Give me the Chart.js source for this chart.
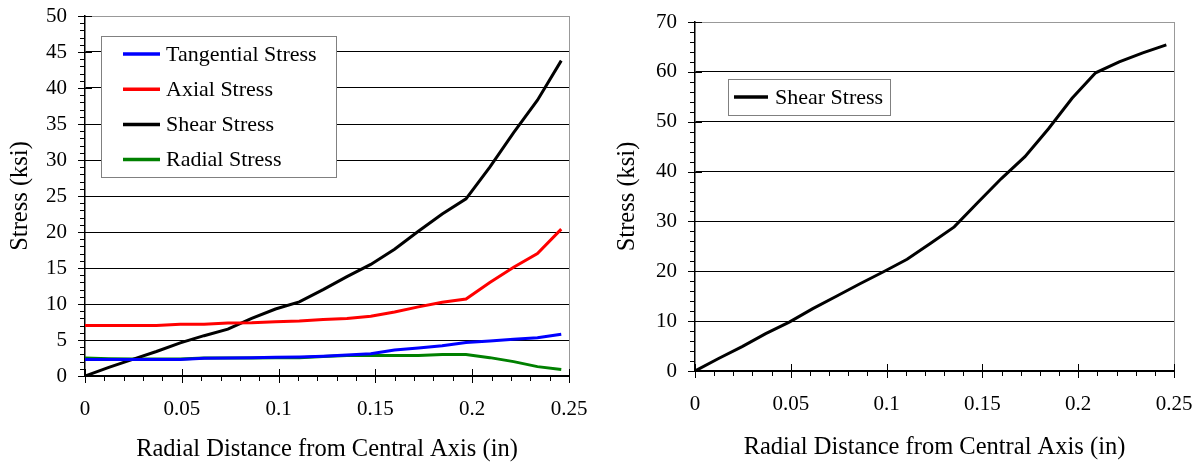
<!DOCTYPE html>
<html>
<head>
<meta charset="utf-8">
<script src="https://cdn.jsdelivr.net/npm/chart.js@4.4.1/dist/chart.umd.min.js"></script>
<style>
  body { margin: 0; background: #fff; }
  .wrap { position: relative; width: 1200px; height: 466px; }
  canvas { position: absolute; top: 0; }
  #stressChart { left: 0; }
  #shearChart { left: 600px; }
</style>
</head>
<body>
<div class="wrap">
  <canvas id="stressChart" width="600" height="466"></canvas>
  <canvas id="shearChart" width="600" height="466"></canvas>
</div>
<script>
// radial distance (in), same sample points for every series
const radius = [0, 0.0123, 0.0246, 0.0369, 0.0492, 0.0615, 0.0738, 0.0861, 0.0984, 0.1107,
  0.123, 0.1353, 0.1476, 0.1599, 0.1722, 0.1845, 0.1968, 0.2091, 0.2214, 0.2337, 0.246];

// left chart (ksi)
const tangential = [2.3, 2.3, 2.3, 2.3, 2.3, 2.45, 2.5, 2.55, 2.6, 2.65,
  2.75, 2.9, 3.1, 3.6, 3.9, 4.2, 4.65, 4.85, 5.1, 5.3, 5.8];
const axial = [7.0, 7.0, 7.0, 7.0, 7.2, 7.2, 7.35, 7.4, 7.55, 7.65,
  7.85, 8.0, 8.3, 8.9, 9.6, 10.25, 10.7, 13.0, 15.1, 17.0, 20.4];
const shear = [0, 1.2, 2.3, 3.4, 4.6, 5.6, 6.5, 8.0, 9.3, 10.3,
  12.0, 13.8, 15.5, 17.6, 20.1, 22.5, 24.6, 29.0, 33.8, 38.3, 43.8];
const radial = [2.5, 2.4, 2.35, 2.35, 2.35, 2.5, 2.5, 2.5, 2.55, 2.55,
  2.7, 2.85, 2.85, 2.85, 2.85, 3.0, 3.0, 2.55, 2.0, 1.3, 0.9];

// right chart (ksi)
const shear2 = [0, 2.5, 4.9, 7.5, 9.8, 12.5, 15.0, 17.5, 19.9, 22.4,
  25.6, 28.9, 33.8, 38.6, 43.0, 48.6, 54.7, 59.8, 62.0, 63.8, 65.4];

const xTicks = [0, 0.05, 0.1, 0.15, 0.2, 0.25];

const xTitle = 'Radial Distance from Central Axis (in)';
const yTitle = 'Stress (ksi)';

Chart.defaults.font.family = '"Liberation Serif", "Times New Roman", serif';
Chart.defaults.color = '#000';

function pts(ys) {
  return radius.map((r, i) => ({x: r, y: ys[i]}));
}

// tick marks like the old spreadsheet style: major crossing the axis, minor outside
const axisTicks = {
  id: 'axisTicks',
  afterDraw(chart, args, opts) {
    const {ctx, chartArea, scales: {x, y}} = chart;
    ctx.save();
    ctx.strokeStyle = '#000';
    ctx.lineWidth = 1;
    ctx.beginPath();
    const left = Math.round(chartArea.left);
    const bottom = Math.round(chartArea.bottom);
    const nx = Math.round((x.max - x.min) / opts.xMinor);
    for (let i = 0; i <= nx; i++) {
      const px = Math.round(x.getPixelForValue(x.min + i * opts.xMinor)) + 0.5;
      if (i % opts.xEvery === 0) {
        ctx.moveTo(px, bottom - 7); ctx.lineTo(px, bottom + 7);
      } else {
        ctx.moveTo(px, bottom); ctx.lineTo(px, bottom + 5);
      }
    }
    const ny = Math.round((y.max - y.min) / opts.yMinor);
    for (let i = 0; i <= ny; i++) {
      const py = Math.round(y.getPixelForValue(y.min + i * opts.yMinor)) + 0.5;
      if (i % opts.yEvery === 0) {
        ctx.moveTo(left - 7, py); ctx.lineTo(left + 7, py);
      } else {
        ctx.moveTo(left - 5, py); ctx.lineTo(left, py);
      }
    }
    ctx.stroke();
    ctx.restore();
  }
};

// boxed legend sitting inside the plot
const boxLegend = {
  id: 'boxLegend',
  afterDraw(chart, args, opts) {
    const ctx = chart.ctx;
    ctx.save();
    ctx.fillStyle = '#fff';
    ctx.fillRect(opts.x, opts.y, opts.w, opts.h);
    ctx.strokeStyle = '#808080';
    ctx.lineWidth = 1;
    ctx.strokeRect(opts.x + 0.5, opts.y + 0.5, opts.w, opts.h);
    ctx.font = opts.fontSize + 'px ' + Chart.defaults.font.family;
    ctx.textBaseline = 'middle';
    ctx.fillStyle = '#000';
    chart.data.datasets.forEach((ds, i) => {
      const ry = opts.rowY + i * opts.rowGap;
      ctx.strokeStyle = ds.borderColor;
      ctx.lineWidth = 3.5;
      ctx.beginPath();
      ctx.moveTo(opts.lineX, ry);
      ctx.lineTo(opts.lineX + opts.lineW, ry);
      ctx.stroke();
      ctx.fillText(ds.label, opts.textX, ry + 1);
    });
    ctx.restore();
  }
};

function makeOptions(yMax, yStep, pad, yWidth, xHeight, tickOpts, legendOpts, titlePad) {
  return {
    responsive: false,
    animation: false,
    layout: {padding: pad},
    plugins: {
      legend: {display: false},
      tooltip: {enabled: false},
      axisTicks: tickOpts,
      boxLegend: legendOpts
    },
    elements: {point: {radius: 0}, line: {tension: 0, borderWidth: 3}},
    scales: {
      x: {
        type: 'linear', min: 0, max: 0.25,
        afterBuildTicks: s => { s.ticks = xTicks.map(v => ({value: v})); },
        ticks: {callback: v => String(+v.toFixed(2)), font: {size: 21}, padding: 21, maxRotation: 0, autoSkip: false},
        grid: {drawTicks: false, lineWidth: 1, color: c => (c.tick && c.tick.value === 0.25) ? '#999' : 'rgba(0,0,0,0)'},
        border: {color: '#000', width: 1.5},
        title: {display: true, text: xTitle, font: {size: 24.5}, padding: {top: 0, bottom: titlePad.x}},
        afterFit: s => { s.height = xHeight; s.paddingLeft = 0; s.paddingRight = 0; }
      },
      y: {
        type: 'linear', min: 0, max: yMax,
        ticks: {stepSize: yStep, font: {size: 21}, padding: 18},
        grid: {drawTicks: false, lineWidth: 1, color: c => (c.tick && c.tick.value === yMax) ? '#999' : '#000'},
        border: {color: '#000', width: 1.5},
        title: {display: true, text: yTitle, font: {size: 24.5}, padding: {top: titlePad.y, bottom: 0}},
        afterFit: s => { s.width = yWidth; s.paddingTop = 0; s.paddingBottom = 0; }
      }
    }
  };
}

new Chart(document.getElementById('stressChart'), {
  type: 'scatter',
  data: {
    datasets: [
      {label: 'Tangential Stress', data: pts(tangential), borderColor: '#0000ff', showLine: true},
      {label: 'Axial Stress', data: pts(axial), borderColor: '#ff0000', showLine: true},
      {label: 'Shear Stress', data: pts(shear), borderColor: '#000000', showLine: true},
      {label: 'Radial Stress', data: pts(radial), borderColor: '#008000', showLine: true}
    ]
  },
  options: makeOptions(50, 5, {top: 16, right: 31, left: 0, bottom: 0}, 85, 90,
    {xMinor: 0.01, xEvery: 5, yMinor: 1, yEvery: 5},
    {x: 101, y: 36, w: 235, h: 141, lineX: 123, lineW: 37, textX: 166, rowY: 54, rowGap: 35.2, fontSize: 22},
    {x: 2, y: 6}),
  plugins: [axisTicks, boxLegend]
});

new Chart(document.getElementById('shearChart'), {
  type: 'scatter',
  data: {
    datasets: [
      {label: 'Shear Stress', data: pts(shear2), borderColor: '#000000', showLine: true}
    ]
  },
  options: makeOptions(70, 10, {top: 22, right: 26, left: 0, bottom: 0}, 95, 95,
    {xMinor: 0.01, xEvery: 5, yMinor: 2, yEvery: 5},
    {x: 128, y: 79, w: 162, h: 36, lineX: 134, lineW: 34, textX: 175, rowY: 97, rowGap: 0, fontSize: 22},
    {x: 4, y: 13}),
  plugins: [axisTicks, boxLegend]
});
</script>
</body>
</html>
